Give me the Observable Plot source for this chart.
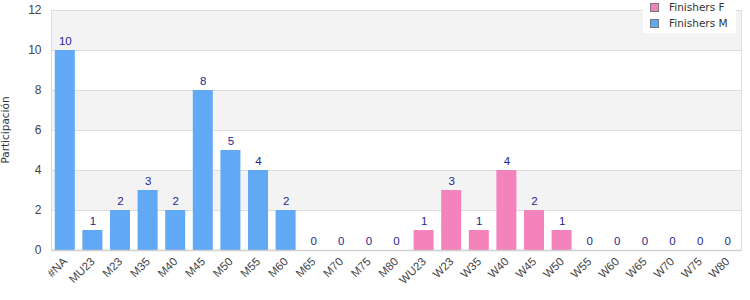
<!DOCTYPE html>
<html>
<head>
<meta charset="utf-8">
<script src="https://cdn.jsdelivr.net/npm/d3@7"></script>
<script src="https://cdn.jsdelivr.net/npm/@observablehq/plot@0.6"></script>
<style>
  body { margin: 0; background: #fff; }
  #wrap { position: relative; width: 750px; height: 300px; }
  #legend { position: absolute; left: 643px; top: 0px; width: 93px; height: 33px; background: #fff;
    font-family: "DejaVu Sans", sans-serif; font-size: 10.5px; color: #333; }
  .item { position: absolute; left: 7px; display: flex; align-items: center; }
  .sw { width: 7px; height: 7px; border: 1px solid #777; margin-right: 10px; }
</style>
</head>
<body>
<div id="wrap"></div>
<script>
const categories = ["#NA","MU23","M23","M35","M40","M45","M50","M55","M60","M65","M70","M75","M80",
  "WU23","W23","W35","W40","W45","W50","W55","W60","W65","W70","W75","W80"];
const values = [10,1,2,3,2,8,5,4,2,0,0,0,0, 1,3,1,4,2,1,0,0,0,0,0,0];
const series = ["Finishers M","Finishers M","Finishers M","Finishers M","Finishers M","Finishers M","Finishers M",
  "Finishers M","Finishers M","Finishers M","Finishers M","Finishers M","Finishers M",
  "Finishers F","Finishers F","Finishers F","Finishers F","Finishers F","Finishers F","Finishers F","Finishers F",
  "Finishers F","Finishers F","Finishers F","Finishers F"];
const legendNames = ["Finishers F","Finishers M"];
const colors = ["#f482bb","#61a8f5"];
const yTicks = [0,2,4,6,8,10,12];

const data = categories.map((c, i) => ({cat: c, v: values[i], s: series[i]}));
const bands = [[10,12],[6,8],[2,4]].map(([a,b]) => ({y1: a, y2: b}));

const chart = Plot.plot({
  width: 750, height: 300,
  marginLeft: 51, marginRight: 9, marginTop: 10, marginBottom: 50,
  style: {fontFamily: "Liberation Sans, Arial, sans-serif", fontSize: "11px", color: "#444"},
  x: {domain: categories, padding: 0, round: false, label: null},
  y: {domain: [0,12], ticks: yTicks, label: null},
  color: {domain: legendNames, range: colors},
  marks: [
    Plot.rect(bands, {y1: "y1", y2: "y2", fill: "#f3f3f3"}),
    Plot.ruleY(yTicks, {stroke: "#dddddd"}),
    Plot.barY(data, {x: "cat", y: "v", fill: "s", insetLeft: 3.8, insetRight: 3.8}),
    Plot.text(data, {x: "cat", y: "v", text: d => String(d.v), dy: -9, fill: "#1f1f8f", fontSize: 11.5}),
    Plot.axisY({ticks: yTicks, tickSize: 0, tickPadding: 10, fontSize: 12, fill: "#444", label: null}),
    Plot.axisX({tickSize: 0, tickPadding: 9, tickRotate: -45, fontSize: 11.5, fill: "#444", label: null}),
    Plot.frame({stroke: "#dddddd"}),
    Plot.ruleY([0], {stroke: "#d0d0d0", strokeWidth: 1.5})
  ]
});
document.getElementById("wrap").appendChild(chart);

// y-axis title
const svg = d3.select(chart);
svg.append("text")
  .attr("transform", "translate(9,130) rotate(-90)")
  .attr("text-anchor", "middle")
  .attr("font-family", "DejaVu Sans, sans-serif")
  .attr("font-size", 10.5)
  .attr("fill", "#333")
  .text("Participación");

const legend = document.createElement("div");
legend.id = "legend";
legendNames.forEach((n, i) => {
  const it = document.createElement("div");
  it.className = "item";
  it.style.top = (1 + i * 16) + "px";
  it.innerHTML = `<span class="sw" style="background:${colors[i]}"></span><span>${n}</span>`;
  legend.appendChild(it);
});
document.getElementById("wrap").appendChild(legend);
</script>
</body>
</html>
